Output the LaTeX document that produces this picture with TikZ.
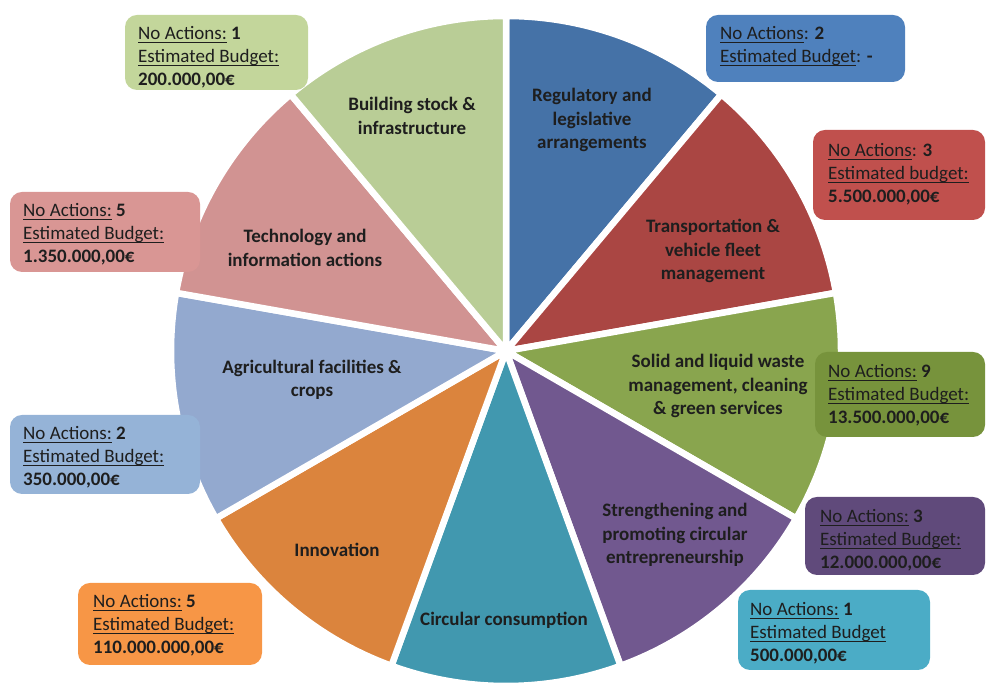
\documentclass[tikz,border=0pt]{standalone}
\usepackage{fontspec}
\setmainfont{Carlito}
\definecolor{sReg}{HTML}{4572A7}
\definecolor{sTra}{HTML}{AA4643}
\definecolor{sSol}{HTML}{89A54E}
\definecolor{sStr}{HTML}{71588F}
\definecolor{sCir}{HTML}{4198AF}
\definecolor{sInn}{HTML}{DB843D}
\definecolor{sAgr}{HTML}{93A9CF}
\definecolor{sTec}{HTML}{D19392}
\definecolor{sBui}{HTML}{B9CD96}
\definecolor{bReg}{HTML}{4F81BD}
\definecolor{bTra}{HTML}{C0504D}
\definecolor{bSol}{HTML}{77933C}
\definecolor{bStr}{HTML}{604A7B}
\definecolor{bCir}{HTML}{4BACC6}
\definecolor{bInn}{HTML}{F79646}
\definecolor{bAgr}{HTML}{95B3D7}
\definecolor{bTec}{HTML}{D99694}
\definecolor{bBui}{HTML}{C3D69B}
\definecolor{txt}{HTML}{1E1E1E}
\newcommand\ulx[1]{\setbox0=\hbox{#1}\rlap{\rule[-3.5pt]{\wd0}{1.2pt}}\box0\relax}
\tikzset{
  slicelabel/.style={font=\fontsize{19}{23.5}\selectfont\bfseries, text=txt, align=center, inner sep=0pt},
  infobox/.style={rounded corners=12pt},
  infotext/.style={font=\fontsize{19}{23}\selectfont, text=txt, align=left, anchor=west, inner sep=0pt},
  slicebdr/.style={draw=white, line width=6.5pt, line join=round}
}
\begin{document}
\begin{tikzpicture}[x=1pt,y=1pt]
\useasboundingbox (0,0) rectangle (986,684);
\coordinate (c) at (506,333);
% slices
\foreach \a/\b/\col in {50/90/sReg, 10/50/sTra, -30/10/sSol, -70/-30/sStr, -110/-70/sCir, -150/-110/sInn, 170/210/sAgr, 130/170/sTec, 90/130/sBui}{
  \fill[\col, slicebdr] (c) -- ++(\a:335) arc[start angle=\a, end angle=\b, radius=335] -- cycle;
}
% slice labels
\node[slicelabel] (lBui) at (412,568) {Building stock \&\\infrastructure};
\node[slicelabel] (lReg) at (592,564) {Regulatory and\\legislative\\arrangements};
\node[slicelabel] (lTra) at (713,433) {Transportation \&\\vehicle fleet\\management};
\node[slicelabel] (lSol) at (718,298) {Solid and liquid waste\\management, cleaning\\\& green services};
\node[slicelabel] (lStr) at (675,149) {Strengthening and\\promoting circular\\entrepreneurship};
\node[slicelabel] (lCir) at (504,64) {Circular consumption};
\node[slicelabel] (lInn) at (337,134) {Innovation};
\node[slicelabel] (lAgr) at (312,304) {Agricultural facilities \&\\crops};
\node[slicelabel] (lTec) at (305,436) {Technology and\\information actions};
% boxes
\fill[bBui, infobox] (125,594) rectangle (308,669);
\fill[bReg, infobox] (706,602) rectangle (905,669);
\fill[bTra, infobox] (813,464) rectangle (985,554);
\fill[bTec, infobox] (10,412) rectangle (200,492);
\fill[bSol, infobox] (815,247) rectangle (985,332);
\fill[bAgr, infobox] (10,190) rectangle (200,269);
\fill[bStr, infobox] (805,109) rectangle (985,187);
\fill[bInn, infobox] (78,19) rectangle (262,101);
\fill[bCir, infobox] (738,14) rectangle (930,94);
% box texts
\node[infotext] (tBui) at (138,626.5) {\ulx{No Actions:} \textbf{1}\\\ulx{Estimated Budget:}\\\textbf{200.000,00€}};
\node[infotext] (tReg) at (720,637.5) {\ulx{No Actions}: \textbf{2}\\\ulx{Estimated Budget}: \textbf{-}};
\node[infotext] (tTra) at (828,509.5) {\ulx{No Actions}: \textbf{3}\\\ulx{Estimated budget:}\\\textbf{5.500.000,00€}};
\node[infotext] (tTec) at (23,449.5) {\ulx{No Actions:} \textbf{5}\\\ulx{Estimated Budget:}\\\textbf{1.350.000,00€}};
\node[infotext] (tSol) at (828,289) {\ulx{No Actions:} \textbf{9}\\\ulx{Estimated Budget:}\\\textbf{13.500.000,00€}};
\node[infotext] (tAgr) at (23,226.5) {\ulx{No Actions:} \textbf{2}\\\ulx{Estimated Budget:}\\\textbf{350.000,00€}};
\node[infotext] (tStr) at (820,143.5) {\ulx{No Actions:} \textbf{3}\\\ulx{Estimated Budget:}\\\textbf{12.000.000,00€}};
\node[infotext] (tInn) at (93,58.5) {\ulx{No Actions:} \textbf{5}\\\ulx{Estimated Budget:}\\\textbf{110.000.000,00€}};
\node[infotext] (tCir) at (750,51) {\ulx{No Actions:} \textbf{1}\\\ulx{Estimated Budget}\\\textbf{500.000,00€}};
\end{tikzpicture}
\end{document}
